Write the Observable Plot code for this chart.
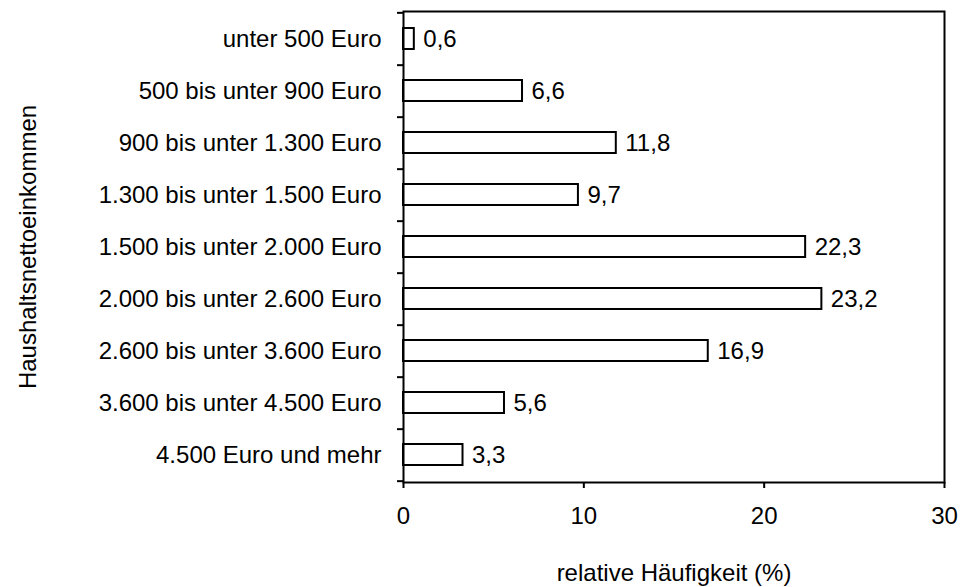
<!DOCTYPE html>
<html>
<head>
<meta charset="utf-8">
<script src="https://cdn.jsdelivr.net/npm/d3@7"></script>
<script src="https://cdn.jsdelivr.net/npm/@observablehq/plot@0.6"></script>
<style>
  html, body { margin: 0; padding: 0; background: #fff; }
</style>
</head>
<body>
<div id="chart"></div>
<script>
const categories = [
  "unter 500 Euro",
  "500 bis unter 900 Euro",
  "900 bis unter 1.300 Euro",
  "1.300 bis unter 1.500 Euro",
  "1.500 bis unter 2.000 Euro",
  "2.000 bis unter 2.600 Euro",
  "2.600 bis unter 3.600 Euro",
  "3.600 bis unter 4.500 Euro",
  "4.500 Euro und mehr"
];
const values = [0.6, 6.6, 11.8, 9.7, 22.3, 23.2, 16.9, 5.6, 3.3];
const xTicks = [0, 10, 20, 30];
const xLabel = "relative Häufigkeit (%)";
const yLabel = "Haushaltsnettoeinkommen";

const data = categories.map((c, i) => ({category: c, value: values[i]}));

const W = 965, H = 587;
const mTop = 11, mBottom = 105, mLeft = 403, mRight = 21;
const step = (H - mTop - mBottom) / categories.length;
const fmt = v => v.toFixed(1).replace(".", ",");

const chart = Plot.plot({
  width: W,
  height: H,
  marginTop: mTop,
  marginBottom: mBottom,
  marginLeft: mLeft,
  marginRight: mRight,
  style: {fontFamily: "'Liberation Sans', Arial, sans-serif", fontSize: "24px", color: "#000", background: "#fff"},
  x: {domain: [0, 30]},
  y: {domain: categories, paddingInner: 0.6, paddingOuter: 0.3},
  marks: [
    Plot.barX(data, {x: "value", y: "category", fill: "#fff", stroke: "#000", strokeWidth: 2}),
    Plot.text(data, {x: "value", y: "category", text: d => fmt(d.value), dx: 9, textAnchor: "start", fill: "#000", fontSize: 24}),
    Plot.frame({stroke: "#000", strokeWidth: 2}),
    Plot.axisY({tickSize: 0, tickPadding: 22, fontSize: 24, label: yLabel, labelAnchor: "center", labelOffset: 385, labelArrow: "none"}),
    Plot.axisY({tickSize: 6, text: null, label: null, strokeWidth: 2, dy: step / 2}),
    Plot.axisY({ticks: [categories[0]], tickSize: 6, text: null, label: null, strokeWidth: 2, dy: -step / 2}),
    Plot.axisX({ticks: xTicks, tickSize: 6, tickPadding: 18, strokeWidth: 2, fontSize: 24, label: xLabel, labelAnchor: "center", labelOffset: 98, labelArrow: "none"})
  ]
});
document.getElementById("chart").appendChild(chart);
</script>
</body>
</html>
